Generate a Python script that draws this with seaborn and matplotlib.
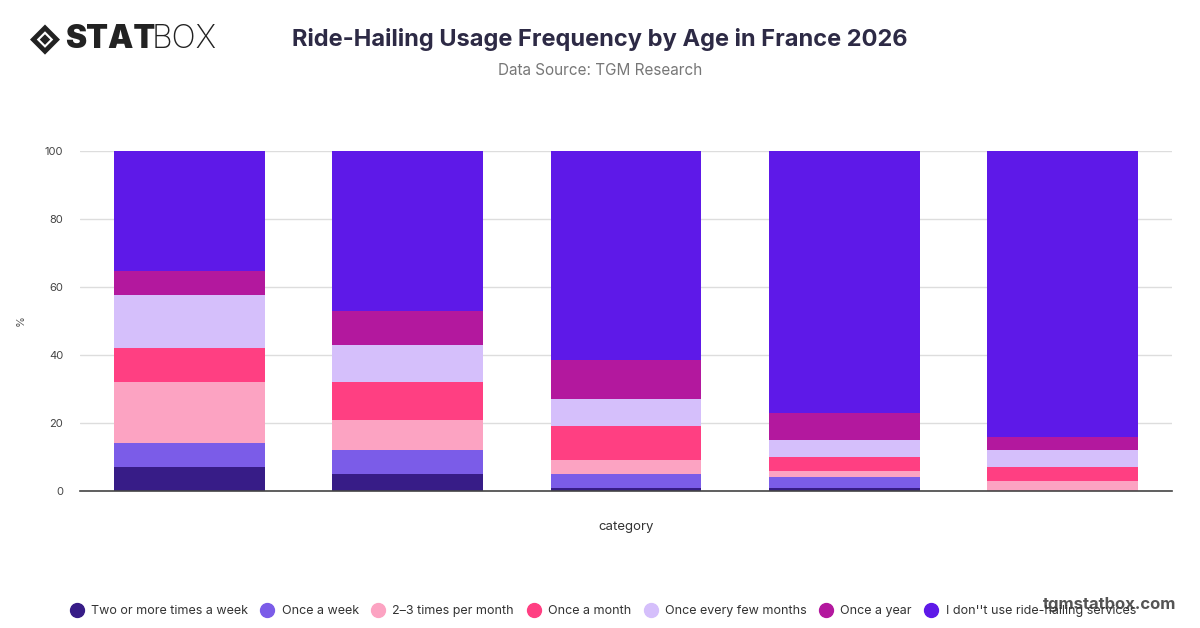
import seaborn as sns
import matplotlib.pyplot as plt
import matplotlib.patches as mpatches
from matplotlib.lines import Line2D
import pandas as pd

age_groups = ["18-24", "25-34", "35-44", "45-54", "55+"]
frequencies = [
    "Two or more times a week",
    "Once a week",
    "2\u20133 times per month",
    "Once a month",
    "Once every few months",
    "Once a year",
    "I don''t use ride-hailing services",
]
two_plus_week = [7, 5, 1, 1, 0]
once_week = [7, 7, 4, 3, 0]
two_three_month = [18, 9, 4, 2, 3]
once_month = [10, 11, 10, 4, 4]
few_months = [15.6, 11, 8, 5, 5]
once_year = [7, 10, 11.5, 8, 4]
no_use = [35.4, 47, 61.5, 77, 84]

colors = ["#371c87", "#7b5ce8", "#fca3c2", "#ff3f82", "#d5bffb", "#b3189e", "#5e19e8"]

series = [two_plus_week, once_week, two_three_month, once_month, few_months, once_year, no_use]
rows = []
for name, vals in zip(frequencies, series):
    for age, v in zip(age_groups, vals):
        rows.append({"age": age, "frequency": name, "value": v})
df = pd.DataFrame(rows)

sns.set_style("white")
plt.rcParams["font.family"] = ["Inter", "DejaVu Sans"]

fig = plt.figure(figsize=(12, 6.28), dpi=100)
ax = fig.add_axes([0.0667, 0.2182, 0.91, 0.5414])

bottom = pd.Series([0.0] * len(age_groups), index=age_groups)
for name, color in zip(frequencies, colors):
    sub = df[df["frequency"] == name].set_index("age").loc[age_groups]
    sns.barplot(x=age_groups, y=sub["value"].values, color=color, width=0.69,
                bottom=bottom.values, ax=ax, linewidth=0, saturation=1)
    bottom += sub["value"].values

ax.set_ylim(0, 100)
ax.set_xlim(-0.5, 4.5)
ax.set_yticks([0, 20, 40, 60, 80, 100])
ax.yaxis.grid(True, color="#dddddd", linewidth=1)
ax.set_axisbelow(True)
for s in ["top", "right", "left"]:
    ax.spines[s].set_visible(False)
ax.spines["bottom"].set_color("#444444")
ax.spines["bottom"].set_linewidth(1.2)
ax.tick_params(axis="y", length=0, labelsize=8, labelcolor="#444444", pad=12)
ax.set_xticks(range(len(age_groups)))
ax.set_xticklabels([])
ax.tick_params(axis="x", length=0)
ax.set_xlabel("category", fontsize=9.5, color="#333333", labelpad=18)
ax.set_ylabel("%", fontsize=8, color="#555555", labelpad=14)

fig.text(0.5, 0.937, "Ride-Hailing Usage Frequency by Age in France 2026",
         ha="center", va="center", fontsize=17, fontweight="bold", color="#2d2a45")
fig.text(0.5, 0.887, "Data Source: TGM Research", ha="center", va="center",
         fontsize=11, color="#777777")

# logo
cx, cy = 0.0375, 0.937
w, h = 0.0125, 0.024
fig.patches.append(mpatches.Polygon([(cx - w, cy), (cx, cy + h), (cx + w, cy), (cx, cy - h)],
                                    closed=True, transform=fig.transFigure,
                                    facecolor="#222222", edgecolor="none"))
fig.patches.append(mpatches.Polygon([(cx - w * 0.55, cy), (cx, cy + h * 0.55), (cx + w * 0.55, cy),
                                     (cx, cy - h * 0.55)], closed=True, transform=fig.transFigure,
                                    facecolor="white", edgecolor="none"))
fig.patches.append(mpatches.Polygon([(cx - w * 0.35, cy), (cx, cy + h * 0.35), (cx + w * 0.35, cy),
                                     (cx, cy - h * 0.35)], closed=True, transform=fig.transFigure,
                                    facecolor="#222222", edgecolor="none"))
fig.text(0.054, 0.937, "STAT", ha="left", va="center", fontsize=23, fontweight="black",
         color="#222222")
fig.text(0.126, 0.937, "BOX", ha="left", va="center", fontsize=23, fontweight="light",
         color="#222222")

handles = [Line2D([0], [0], marker="o", linestyle="none", markersize=10,
                  markerfacecolor=c, markeredgecolor=c) for c in colors]
fig.legend(handles, frequencies, loc="center", bbox_to_anchor=(0.5, 0.027), ncol=7,
           frameon=False, fontsize=9, handletextpad=0.15, columnspacing=0.55,
           labelcolor="#333333")

fig.text(0.98, 0.037, "tgmstatbox.com", ha="right", va="center", fontsize=12,
         fontweight="bold", color="#555555")

fig.savefig("out.png", dpi=100)
